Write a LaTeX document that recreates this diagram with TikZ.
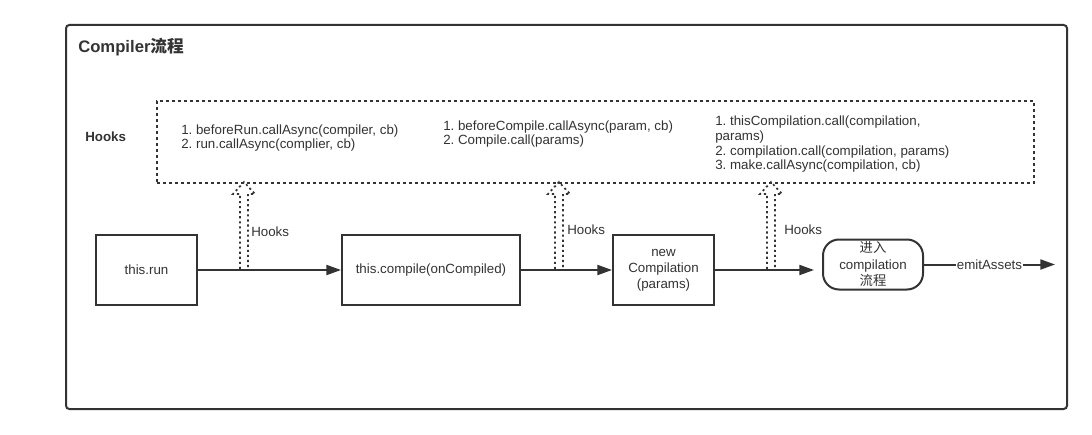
\documentclass[tikz,border=0pt]{standalone}
\usepackage{fontspec}
\setmainfont{Liberation Sans}
\newfontfamily\cjk{Noto Sans CJK SC}
\usetikzlibrary{arrows.meta}
\frenchspacing
\definecolor{ln}{HTML}{333333}
\definecolor{tx}{HTML}{333333}
\tikzset{
  base/.style={text=tx, font=\fontsize{10}{12}\selectfont},
  procbox/.style={base, draw=ln, line width=1.5pt, minimum height=52.5pt, align=center, inner sep=0pt},
  roundbox/.style={base, draw=ln, line width=1.5pt, rounded corners=12pt, minimum width=75pt, minimum height=37.5pt, align=center, inner sep=0pt, font=\fontsize{10}{12.4}\selectfont},
  hooksbox/.style={draw=ln, line width=1.3pt, dash pattern=on 1.9pt off 2.6pt, minimum width=657.75pt, minimum height=61.5pt, inner sep=0pt},
  grouptext/.style={base, anchor=west, align=left, inner sep=0pt, font=\fontsize{10}{11}\selectfont},
  hooklabel/.style={base, anchor=west, inner sep=0pt},
  flow/.style={draw=ln, line width=1.5pt, -{Triangle[length=11pt,width=7.5pt]}},
  hookarr/.style={draw=ln, line width=1.3pt, dash pattern=on 1.6pt off 2.2pt},
  frame/.style={draw=ln, line width=1.5pt, rounded corners=2.5pt}
}
\begin{document}
\begin{tikzpicture}[x=0.75pt,y=-0.75pt]
\useasboundingbox (0,0) rectangle (1092,435);
\fill[white] (0,0) rectangle (1092,435);
% outer frame
\draw[frame] (66,25) rectangle (1067,409);
\node[base, anchor=west, inner sep=0pt, font=\fontsize{12.5}{14}\selectfont\bfseries] (title) at (78,47) {Compiler{\cjk 流程}};
% hooks area
\node[hooksbox] (hooks) at (595.5,142) {};
\node[base, anchor=west, inner sep=0pt, font=\fontsize{10}{12}\selectfont\bfseries] (hookslbl) at (85,137) {Hooks};
\node[grouptext] (g1) at (181,138) {1. beforeRun.callAsync(compiler, cb)\\2. run.callAsync(complier, cb)};
\node[grouptext] (g2) at (443,134) {1. beforeCompile.callAsync(param, cb)\\2. Compile.call(params)};
\node[grouptext] (g3) at (715,144.5) {1. thisCompilation.call(compilation,\\params)\\2. compilation.call(compilation, params)\\3. make.callAsync(compilation, cb)};
% process nodes
\node[procbox, minimum width=75.75pt] (run) at (146.5,270) {this.run};
\node[procbox, minimum width=133.5pt] (compile) at (431,270) {this.compile(onCompiled)};
\node[procbox, minimum width=75.75pt, font=\fontsize{10}{12}\selectfont] (newc) at (663.5,270) {new\\Compilation\\(params)};
\node[roundbox] (enter) at (873,264.5) {{\cjk 进入}\\compilation\\{\cjk 流程}};
\coordinate (end) at (1055,264.5);
% flows
\draw[flow] (run.east) -- (compile.west);
\draw[flow] (compile.east) -- (newc.west);
\draw[flow, shorten >=6pt] (newc.east) -- (newc.east -| enter.west);
\draw[flow] (enter.east) -- node[base, fill=white, inner sep=0.5pt] (emit) {emitAssets} (end);
% hook arrows
\coordinate (h1) at (244,269);
\coordinate (h2) at (559,269);
\coordinate (h3) at (771,269);
\foreach \h in {h1,h2,h3}{
  \draw[hookarr] (\h) ++(-4,0) -- ++(0,-75) -- ++(-7,0) -- ++(11,-12) -- ++(11,12) -- ++(-7,0) -- ++(0,75);
}
\node[hooklabel] (hl1) at (251,232) {Hooks};
\node[hooklabel] (hl2) at (567,230) {Hooks};
\node[hooklabel] (hl3) at (784,230) {Hooks};
\end{tikzpicture}
\end{document}
